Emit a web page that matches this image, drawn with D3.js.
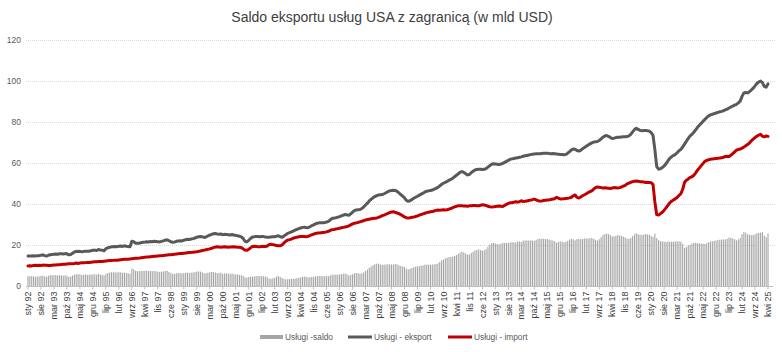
<!DOCTYPE html>
<html><head><meta charset="utf-8">
<script src="https://cdn.jsdelivr.net/npm/d3@7"></script>
<style>
body{margin:0;background:#fff;}
text{font-family:Arial,"Liberation Sans",sans-serif;}
</style>
</head><body>
<svg id="chart" width="782" height="352"></svg>
<script>
const monthNames = ["sty","lut","mar","kwi","maj","cze","lip","sie","wrz","paź","lis","gru"];
const yearLabels = ["92","93","94","95","96","97","98","99","00","01","02","03","04","05","06","07","08","09","10","11","12","13","14","15","16","17","18","19","20","21","22","23","24","25"];
const categories = [];
yearLabels.forEach(yy => monthNames.forEach(m => categories.push(m + " " + yy)));
categories.length = 400;

const tickLabels = ["sty 92","sie 92","mar 93","paź 93","maj 94","gru 94","lip 95","lut 96","wrz 96","kwi 97","lis 97","cze 98","sty 99","sie 99","mar 00","paź 00","maj 01","gru 01","lip 02","lut 03","wrz 03","kwi 04","lis 04","cze 05","sty 06","sie 06","mar 07","paź 07","maj 08","gru 08","lip 09","lut 10","wrz 10","kwi 11","lis 11","cze 12","sty 13","sie 13","mar 14","paź 14","maj 15","gru 15","lip 16","lut 17","wrz 17","kwi 18","lis 18","cze 19","sty 20","sie 20","mar 21","paź 21","maj 22","gru 22","lip 23","lut 24","wrz 24","kwi 25"];
const yTicks = [0,20,40,60,80,100,120];

const eksport = [
14.6,14.6,14.6,14.7,14.6,14.7,14.8,15.0,15.2,14.8,14.6,15.0,
15.3,15.4,15.5,15.6,15.5,15.7,15.7,15.6,15.8,15.7,15.2,15.4,
16.0,16.6,16.9,16.8,16.9,16.7,16.8,17.0,16.9,17.0,17.2,17.4,
17.5,17.3,17.8,17.6,17.5,17.2,18.2,18.6,18.9,19.1,19.2,19.3,
19.2,19.4,19.5,19.3,19.6,19.4,19.3,19.1,21.8,21.6,20.9,20.8,
20.9,21.1,21.3,21.4,21.6,21.5,21.7,21.6,21.8,21.7,21.6,21.5,
21.8,22.0,22.4,22.5,22.1,21.6,21.3,21.4,21.8,22.0,22.1,22.0,
22.3,22.6,22.8,22.7,22.9,23.1,23.4,23.8,24.0,24.1,24.0,23.7,
23.9,24.4,24.8,25.2,25.5,25.6,25.4,25.3,25.4,25.0,25.2,25.1,
25.0,24.9,25.1,24.8,24.7,24.5,24.3,24.0,23.2,21.8,21.5,22.3,
23.2,23.9,24.0,24.2,24.1,24.0,24.1,24.1,23.9,23.8,23.8,23.9,
24.0,24.0,24.3,24.5,24.0,23.8,24.4,25.0,25.7,26.0,26.4,26.8,
27.2,27.6,28.0,28.3,28.6,28.7,28.5,28.4,28.9,29.4,29.8,30.3,
30.6,30.8,30.9,30.9,31.0,31.2,31.5,32.3,33.0,33.1,33.3,33.6,
33.8,34.2,34.6,34.9,34.7,34.5,35.2,36.0,36.8,37.1,37.2,37.3,
37.8,38.6,39.5,40.4,41.5,42.3,43.0,43.6,44.1,44.4,44.5,44.6,
45.0,45.5,46.0,46.4,46.6,46.7,46.6,46.2,45.4,44.6,43.8,43.0,
41.8,41.3,41.6,42.2,42.8,43.3,43.8,44.3,44.8,45.3,45.9,46.2,
46.4,46.6,46.8,47.2,47.6,48.1,48.8,49.6,50.1,50.6,51.0,51.6,
52.0,52.6,53.3,54.0,54.7,55.5,55.8,55.4,54.8,54.2,54.4,55.3,
56.0,56.6,56.8,56.9,56.9,56.8,56.9,57.3,58.0,58.7,59.4,59.6,
59.5,59.4,59.3,59.5,59.8,60.3,60.8,61.3,61.8,62.0,62.2,62.4,
62.6,62.8,63.0,63.3,63.5,63.7,63.9,64.1,64.3,64.4,64.5,64.5,
64.5,64.6,64.7,64.7,64.8,64.6,64.5,64.6,64.5,64.4,64.3,64.2,
64.1,64.0,64.2,64.8,65.6,66.4,66.8,66.7,66.1,65.8,66.2,67.0,
67.6,68.2,68.8,69.3,69.8,70.2,70.4,70.5,71.0,71.8,72.6,73.2,
73.4,73.0,72.4,72.0,72.1,72.4,72.6,72.6,72.7,72.8,72.8,72.9,
73.2,74.0,75.2,76.3,76.9,76.4,75.9,75.7,75.8,75.9,75.7,75.6,
74.8,73.5,66.5,58.2,57.0,57.2,57.8,58.6,59.6,61.0,62.2,63.0,
63.6,64.2,65.0,66.0,66.6,67.8,69.2,70.6,72.0,73.2,74.0,75.0,
76.2,77.4,78.4,79.4,80.4,81.3,82.2,83.0,83.5,83.8,84.1,84.4,
84.7,85.0,85.2,85.5,85.9,86.3,86.8,87.3,87.8,88.2,88.6,89.3,
90.2,92.5,94.2,94.4,94.2,94.8,95.6,96.5,97.6,98.8,99.5,100.0,
99.2,97.4,97.0,98.6];

const importVals = [
9.8,9.9,9.8,10.0,10.1,10.0,10.1,10.0,10.2,10.1,10.1,10.0,
10.0,10.1,10.2,10.3,10.4,10.4,10.5,10.6,10.6,10.7,10.8,10.8,
10.9,11.0,11.2,11.0,11.2,11.3,11.3,11.4,11.5,11.5,11.6,11.7,
11.8,11.8,11.9,12.0,12.0,12.1,12.2,12.3,12.4,12.4,12.5,12.6,
12.6,12.7,12.8,12.9,13.0,13.1,13.1,13.2,13.3,13.4,13.5,13.5,
13.6,13.8,13.9,14.0,14.1,14.2,14.3,14.4,14.5,14.5,14.6,14.7,
14.8,14.9,15.0,15.1,15.2,15.3,15.4,15.5,15.6,15.7,15.8,15.9,
16.0,16.1,16.2,16.3,16.4,16.5,16.6,16.7,16.9,17.1,17.3,17.5,
17.7,17.9,18.1,18.4,18.7,19.0,19.1,19.0,18.9,19.0,19.1,19.0,
18.9,19.0,19.0,19.1,19.0,18.9,18.9,18.7,18.2,17.5,17.4,17.9,
18.6,19.3,19.4,19.3,19.2,19.2,19.3,19.4,19.3,19.5,20.2,20.4,
20.2,20.0,19.7,19.6,19.6,20.0,21.0,21.8,22.4,22.6,22.9,23.3,
23.6,23.8,24.0,24.1,24.1,24.1,24.0,24.2,24.6,25.0,25.3,25.6,
25.8,25.9,26.0,26.1,26.2,26.4,26.7,27.1,27.5,27.6,27.8,28.0,
28.2,28.4,28.6,28.8,29.0,29.3,29.8,30.3,30.6,30.8,31.0,31.3,
31.6,31.9,32.2,32.4,32.6,32.8,32.9,33.0,33.2,33.5,33.9,34.3,
34.6,35.0,35.4,35.8,36.1,36.2,35.9,35.6,35.3,34.8,34.3,33.7,
33.3,33.2,33.3,33.5,33.6,33.9,34.2,34.6,34.9,35.2,35.5,35.8,
36.0,36.2,36.3,36.6,36.9,37.1,37.0,37.1,37.2,37.1,37.2,37.5,
37.8,38.2,38.6,38.9,39.1,39.2,39.1,39.0,39.0,38.9,39.1,39.2,
39.3,39.3,39.2,39.1,39.4,39.6,39.5,39.3,38.9,38.6,38.5,38.6,
38.8,38.9,39.0,38.9,38.8,39.3,39.8,40.3,40.6,40.6,40.9,41.1,
40.9,41.1,41.6,41.2,41.3,41.5,41.7,41.9,42.1,42.4,42.0,41.6,
41.4,41.5,41.7,41.8,41.9,42.0,42.2,42.4,42.6,43.3,42.8,42.5,
42.5,42.6,42.7,42.8,43.0,43.3,44.0,44.4,43.2,42.9,43.4,44.0,
44.5,45.0,45.6,46.0,46.4,47.2,48.0,48.3,48.2,48.0,47.8,47.9,
47.8,47.7,47.6,47.8,48.0,47.9,47.8,48.0,48.3,48.7,49.1,49.8,
50.2,50.6,50.9,51.1,51.2,51.1,50.9,50.8,50.7,50.5,50.6,50.5,
50.4,49.6,41.0,34.8,34.6,35.3,36.0,37.0,38.1,39.3,40.6,41.4,
42.0,42.5,43.2,44.2,45.0,47.2,50.6,51.6,52.2,53.0,53.3,54.0,
55.2,56.5,57.6,58.7,59.8,60.8,61.3,61.6,61.8,62.0,62.1,62.2,
62.3,62.4,62.6,62.8,63.2,63.3,63.2,63.8,64.6,65.4,66.3,66.6,
66.8,67.2,67.8,68.4,69.0,69.8,70.8,71.6,72.4,73.0,73.6,74.0,
73.0,72.8,73.2,73.0];

const saldo = [
4.8,4.7,4.8,4.7,4.5,4.7,4.7,5.0,5.0,4.7,4.5,5.0,
5.3,5.3,5.3,5.3,5.1,5.3,5.2,5.0,5.2,5.0,4.4,4.6,
5.1,5.6,5.7,5.8,5.7,5.4,5.5,5.6,5.4,5.5,5.6,5.7,
5.7,5.5,5.9,5.6,5.5,5.1,6.0,6.3,6.5,6.7,6.7,6.7,
6.6,6.7,6.7,6.4,6.6,6.3,6.2,5.9,8.5,8.2,7.4,7.3,
7.3,7.3,7.4,7.4,7.5,7.3,7.4,7.2,7.3,7.2,7.0,6.8,
7.0,7.1,7.4,7.4,6.9,6.3,5.9,5.9,6.2,6.3,6.3,6.1,
6.3,6.5,6.6,6.4,6.5,6.6,6.8,7.1,7.1,7.0,6.7,6.2,
6.2,6.5,6.7,6.8,6.8,6.6,6.3,6.3,6.5,6.0,6.1,6.1,
6.1,5.9,6.1,5.7,5.7,5.6,5.4,5.3,5.0,4.3,4.1,4.4,
4.6,4.6,4.6,4.9,4.9,4.8,4.8,4.7,4.6,4.3,3.6,3.5,
3.8,4.0,4.6,4.9,4.4,3.8,3.4,3.2,3.3,3.4,3.5,3.5,
3.6,3.8,4.0,4.2,4.5,4.6,4.5,4.2,4.3,4.4,4.5,4.7,
4.8,4.9,4.9,4.8,4.8,4.8,4.8,5.2,5.5,5.5,5.5,5.6,
5.6,5.8,6.0,6.1,5.7,5.2,5.4,5.7,6.2,6.3,6.2,6.0,
6.2,6.7,7.3,8.0,8.9,9.5,10.1,10.6,10.9,10.9,10.6,10.3,
10.4,10.5,10.6,10.6,10.5,10.5,10.7,10.6,10.1,9.8,9.5,9.3,
8.5,8.1,8.3,8.7,9.2,9.4,9.6,9.7,9.9,10.1,10.4,10.4,
10.4,10.4,10.5,10.6,10.7,11.0,11.8,12.5,12.9,13.5,13.8,14.1,
14.2,14.4,14.7,15.1,15.6,16.3,16.7,16.4,15.8,15.3,15.3,16.1,
16.7,17.3,17.6,17.8,17.5,17.2,17.4,18.0,19.1,20.1,20.9,21.0,
20.7,20.5,20.3,20.6,21.0,21.0,21.0,21.0,21.2,21.4,21.3,21.3,
21.7,21.7,21.4,22.1,22.2,22.2,22.2,22.2,22.2,22.0,22.5,22.9,
23.1,23.1,23.0,22.9,22.9,22.6,22.3,22.2,21.9,21.1,21.5,21.7,
21.6,21.4,21.5,22.0,22.6,23.1,22.8,22.3,22.9,22.9,22.8,23.0,
23.1,23.2,23.2,23.3,23.4,23.0,22.4,22.2,22.8,23.8,24.8,25.3,
25.6,25.3,24.8,24.2,24.1,24.5,24.8,24.6,24.4,24.1,23.7,23.1,
23.0,23.4,24.3,25.2,25.7,25.3,25.0,24.9,25.1,25.4,25.1,25.1,
24.4,23.9,25.5,23.4,22.4,21.9,21.8,21.6,21.5,21.7,21.6,21.6,
21.6,21.7,21.8,21.8,21.6,20.6,18.6,19.0,19.8,20.2,20.7,21.0,
21.0,20.9,20.8,20.7,20.6,20.5,20.9,21.4,21.7,21.8,22.0,22.2,
22.4,22.6,22.6,22.7,22.7,23.0,23.6,23.5,23.2,22.8,22.3,22.7,
23.4,25.3,26.4,26.0,25.2,25.0,24.8,24.9,25.2,25.8,25.9,26.0,
26.2,24.6,23.8,25.6];

const seriesNames = ["Usługi -saldo","Usługi - eksport","Usługi - import"];
const seriesColors = ["#a6a6a6","#595959","#c00000"];

const svg = d3.select("#chart");

const x = d3.scaleBand().domain(categories).range([27.07, 768.93]).paddingInner(0.4).paddingOuter(0.2);
const y = d3.scaleLinear().domain([0, 120]).range([286, 40]);

// Title
svg.append("text").attr("x", 392).attr("y", 22).attr("text-anchor", "middle")
  .attr("font-size", 14).attr("fill", "#404040")
  .text("Saldo eksportu usług USA z zagranicą (w mld USD)");

// Gridlines
svg.append("g").selectAll("line").data(yTicks.filter(d => d > 0)).join("line")
  .attr("x1", 26).attr("x2", 775)
  .attr("y1", d => y(d) + 0.5).attr("y2", d => y(d) + 0.5)
  .attr("stroke", "#d9d9d9").attr("stroke-width", 1).attr("stroke-dasharray", "1,1");

// Y axis
const yAxis = svg.append("g").attr("transform", "translate(21,0)")
  .call(d3.axisLeft(y).tickValues(yTicks).tickSize(0).tickPadding(0));
yAxis.select(".domain").remove();
yAxis.selectAll("text").attr("font-size", 8.5).attr("fill", "#595959").attr("font-family", "Arial, 'Liberation Sans', sans-serif");

// Bars (saldo)
svg.append("g").selectAll("rect").data(saldo).join("rect")
  .attr("x", (d, i) => x(categories[i]))
  .attr("width", x.bandwidth())
  .attr("y", d => y(d))
  .attr("height", d => y(0) - y(d))
  .attr("fill", seriesColors[0]);

// X axis
const xAxis = svg.append("g").attr("transform", "translate(0,286.5)")
  .call(d3.axisBottom(x).tickValues(tickLabels).tickSize(3).tickSizeOuter(0));
xAxis.select(".domain").attr("stroke", "#bfbfbf").attr("d", "M26,0H773");
xAxis.selectAll(".tick line").attr("stroke", "#bfbfbf");
xAxis.selectAll("text")
  .attr("transform", "rotate(-90)")
  .attr("x", -5).attr("y", 0).attr("dy", "0.35em")
  .attr("text-anchor", "end")
  .attr("font-size", 9).attr("fill", "#404040")
  .attr("font-family", "Arial, 'Liberation Sans', sans-serif");

// Lines
const line = d3.line()
  .x((d, i) => x(categories[i]) + x.bandwidth() / 2)
  .y(d => y(d));
svg.append("path").datum(eksport).attr("d", line)
  .attr("fill", "none").attr("stroke", seriesColors[1]).attr("stroke-width", 3)
  .attr("stroke-linejoin", "round").attr("stroke-linecap", "round");
svg.append("path").datum(importVals).attr("d", line)
  .attr("fill", "none").attr("stroke", seriesColors[2]).attr("stroke-width", 3)
  .attr("stroke-linejoin", "round").attr("stroke-linecap", "round");

// Legend
const legendX = [260, 348, 448];
const lg = svg.append("g").selectAll("g").data(seriesNames).join("g")
  .attr("transform", (d, i) => `translate(${legendX[i]},337)`);
lg.each(function(d, i) {
  const g = d3.select(this);
  if (i === 0) {
    g.append("rect").attr("x", 0).attr("y", -2).attr("width", 23).attr("height", 4).attr("fill", seriesColors[0]);
  } else {
    g.append("line").attr("x1", 0).attr("x2", 24).attr("y1", 0).attr("y2", 0)
      .attr("stroke", seriesColors[i]).attr("stroke-width", 3);
  }
  g.append("text").attr("x", i === 0 ? 25 : 26).attr("y", 3).attr("font-size", 8.3)
    .attr("fill", "#595959").text(d);
});
</script>
</body></html>
